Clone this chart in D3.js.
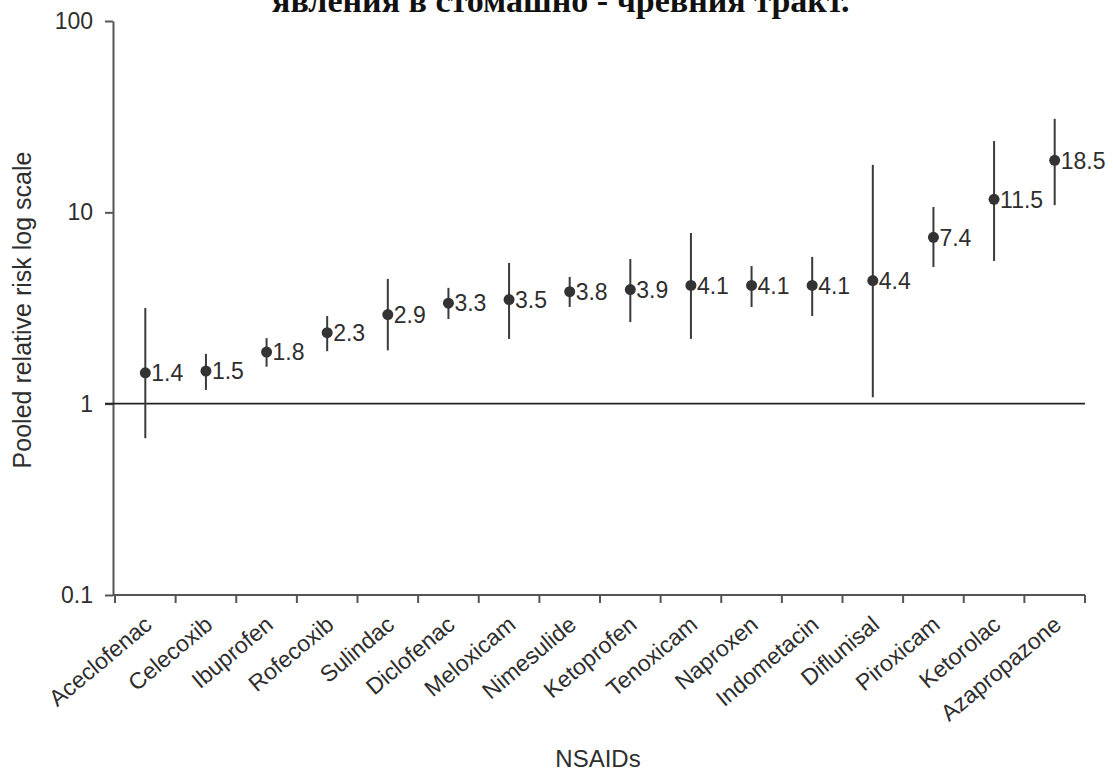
<!DOCTYPE html>
<html>
<head>
<meta charset="utf-8">
<script src="https://cdn.jsdelivr.net/npm/d3@7/dist/d3.min.js"></script>
<style>
  html, body { margin: 0; padding: 0; background: #fff; }
  svg { display: block; }
</style>
</head>
<body>
<svg id="chart" width="1113" height="776"></svg>
<script>
const titleText = "явления в стомашно - чревния тракт.";
const categories = ["Aceclofenac","Celecoxib","Ibuprofen","Rofecoxib","Sulindac","Diclofenac","Meloxicam","Nimesulide","Ketoprofen","Tenoxicam","Naproxen","Indometacin","Diflunisal","Piroxicam","Ketorolac","Azapropazone"];
const riskValues = [1.4, 1.5, 1.8, 2.3, 2.9, 3.3, 3.5, 3.8, 3.9, 4.1, 4.1, 4.1, 4.4, 7.4, 11.5, 18.5];
const plotValues = [1.45, 1.48, 1.86, 2.35, 2.92, 3.35, 3.5, 3.85, 3.95, 4.15, 4.15, 4.15, 4.4, 7.4, 11.7, 18.7];
const ciLower = [0.66, 1.18, 1.56, 1.88, 1.9, 2.77, 2.18, 3.2, 2.67, 2.18, 3.2, 2.87, 1.08, 5.18, 5.57, 10.9];
const ciUpper = [3.16, 1.82, 2.2, 2.87, 4.49, 4.03, 5.44, 4.6, 5.7, 7.8, 5.24, 5.85, 17.7, 10.67, 23.6, 30.8];
const yTickValues = [0.1, 1, 10, 100];
const yTickLabels = ["0.1", "1", "10", "100"];
const xTitle = "NSAIDs";
const yTitle = "Pooled relative risk log scale";

const svg = d3.select("#chart");
const font = "'Liberation Sans', Arial, Helvetica, sans-serif";
const textColor = "#2e2e2e";
const fs = 23;

const x = d3.scaleBand().domain(categories).range([115, 1085]);
const y = d3.scaleLog().domain([0.1, 100]).range([595, 21]);
const axisX = 113;

// title (cut at top)
svg.append("text")
  .attr("x", 272).attr("y", 12)
  .attr("font-family", "'Liberation Serif', 'Times New Roman', serif")
  .attr("font-weight", "bold")
  .attr("font-size", 34)
  .attr("fill", "#111")
  .text(titleText);

// y axis
const yAxis = d3.axisLeft(y)
  .tickValues(yTickValues)
  .tickFormat((d, i) => yTickLabels[i])
  .tickSize(8).tickSizeOuter(0);
const gy = svg.append("g").attr("transform", `translate(${axisX},0)`).call(yAxis);
gy.attr("font-size", null).attr("font-family", null);
gy.select(".domain").attr("stroke", "#555").attr("stroke-width", 2);
gy.selectAll(".tick line").attr("stroke", "#555").attr("stroke-width", 2);
gy.selectAll(".tick text")
  .style("font-family", font).style("font-size", fs + "px").attr("fill", textColor)
  .attr("x", -20);

// x axis line + boundary ticks
const xBoundaries = categories.map(c => x(c)).concat([x.range()[1]]);
svg.append("line")
  .attr("x1", axisX).attr("x2", x.range()[1])
  .attr("y1", y(0.1)).attr("y2", y(0.1))
  .attr("stroke", "#555").attr("stroke-width", 2);
svg.selectAll(".xtick").data(xBoundaries).enter().append("line")
  .attr("class", "xtick")
  .attr("x1", d => d).attr("x2", d => d)
  .attr("y1", y(0.1)).attr("y2", y(0.1) + 8)
  .attr("stroke", "#555").attr("stroke-width", 2);

// x labels
svg.selectAll(".xlab").data(categories).enter().append("text")
  .attr("class", "xlab")
  .attr("transform", d => `translate(${x(d) + x.bandwidth() / 2 + 8},${y(0.1) + 32}) rotate(-40)`)
  .attr("text-anchor", "end")
  .style("font-family", font).style("font-size", fs + "px").attr("fill", textColor)
  .text(d => d);

// reference line at 1
svg.append("line")
  .attr("x1", axisX - 8).attr("x2", x.range()[1])
  .attr("y1", y(1)).attr("y2", y(1))
  .attr("stroke", "#222").attr("stroke-width", 1.6);

// error bars
const cx = i => x(categories[i]) + x.bandwidth() / 2;
svg.selectAll(".ci").data(categories).enter().append("line")
  .attr("class", "ci")
  .attr("x1", (d, i) => cx(i)).attr("x2", (d, i) => cx(i))
  .attr("y1", (d, i) => y(ciLower[i])).attr("y2", (d, i) => y(ciUpper[i]))
  .attr("stroke", "#3a3a3a").attr("stroke-width", 2);

// points
svg.selectAll(".pt").data(categories).enter().append("circle")
  .attr("class", "pt")
  .attr("cx", (d, i) => cx(i)).attr("cy", (d, i) => y(plotValues[i]))
  .attr("r", 5.5).attr("fill", "#333");

// value labels
svg.selectAll(".vlab").data(categories).enter().append("text")
  .attr("class", "vlab")
  .attr("x", (d, i) => cx(i) + 6).attr("y", (d, i) => y(plotValues[i]))
  .attr("dy", "0.36em")
  .style("font-family", font).style("font-size", fs + "px").attr("fill", textColor)
  .text((d, i) => riskValues[i].toFixed(1));

// axis titles
svg.append("text")
  .attr("x", 598).attr("y", 767)
  .attr("text-anchor", "middle")
  .style("font-family", font).style("font-size", "24px").attr("fill", textColor)
  .text(xTitle);
svg.append("text")
  .attr("transform", `translate(31,310) rotate(-90)`)
  .attr("text-anchor", "middle")
  .style("font-family", font).style("font-size", "25px").attr("fill", textColor)
  .text(yTitle);
</script>
</body>
</html>
